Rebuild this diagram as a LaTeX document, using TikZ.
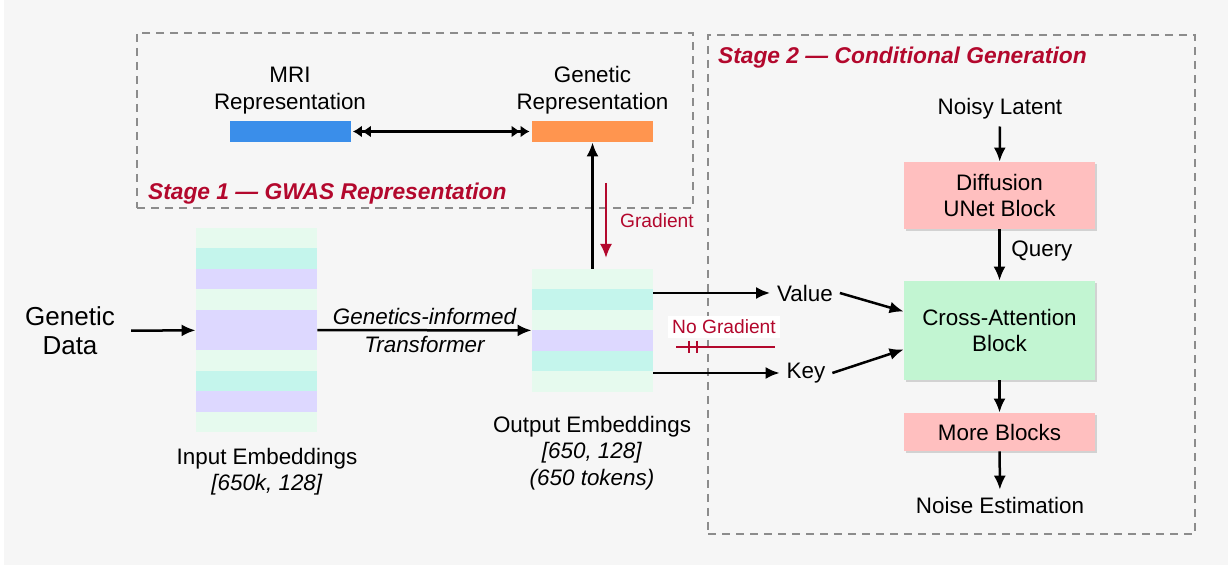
\documentclass[tikz,border=0pt]{standalone}
\usepackage{fontspec}
\setmainfont{Liberation Sans}
\usetikzlibrary{arrows.meta,shadows}

\definecolor{bgcol}{HTML}{F6F6F6}
\definecolor{dashgray}{HTML}{8C8C8C}
\definecolor{stagered}{HTML}{B3082D}
\definecolor{mriblue}{HTML}{3A8EEA}
\definecolor{genorange}{HTML}{FF954F}
\definecolor{mintc}{HTML}{E6FAEE}
\definecolor{cyanc}{HTML}{C4F5EC}
\definecolor{lavc}{HTML}{DDD8FF}
\definecolor{blkgreen}{HTML}{C2F5D2}
\definecolor{blkpink}{HTML}{FFBFBF}

\begin{document}
\begin{tikzpicture}[x=0.5pt, y=-0.5pt, font=\fontsize{11.2}{13.2}\selectfont]
	\tikzset{
		arr/.style={line width=1.25pt, -{Latex[length=7pt,width=6pt]}},
		dtip/.tip={Latex[length=4.5pt,width=6pt] Latex[length=4.5pt,width=6pt]},
		stagebox/.style={draw=dashgray, line width=0.75pt, dash pattern=on 4pt off 3pt, inner sep=0},
		bar/.style={minimum width=60.5pt, minimum height=10.5pt, inner sep=0},
		stack/.style={minimum width=60.5pt, inner sep=0},
		blk/.style={minimum width=95.5pt, inner sep=0, align=center, drop shadow={shadow xshift=1.2pt, shadow yshift=-1.2pt, opacity=0.3}},
		stagelbl/.style={anchor=west, text=stagered, font=\fontsize{11.4}{13}\selectfont\bfseries\itshape},
		redlbl/.style={text=stagered, font=\fontsize{9.6}{11}\selectfont},
	};

	% background and page
	\useasboundingbox (0,0) rectangle (1228,571);
	\fill[bgcol] (4,0) rectangle (1228,565);

	% stage frames
	\node[stagebox, minimum width=278pt, minimum height=87.5pt] (stage1) at (415,120.5) {};
	\node[stagebox, minimum width=243.5pt, minimum height=249.5pt] (stage2) at (951.5,284.5) {};
	\node[stagelbl] (s1lbl) at (141,194) {Stage 1 --- GWAS Representation};
	\node[stagelbl] (s2lbl) at (711,58) {Stage 2 --- Conditional Generation};

	% representations
	\node[bar, fill=mriblue] (mri) at (290,131.5) {};
	\node[bar, fill=genorange] (genrep) at (592.5,131.5) {};
	\node[align=center, anchor=south] (mrilbl) at (290,121) {MRI\\Representation};
	\node[align=center, anchor=south] (genlbl) at (592.5,121) {Genetic\\Representation};

	% embedding stacks
	\foreach \c [count=\i from 0] in {mintc,cyanc,lavc,mintc,lavc,lavc,mintc,cyanc,lavc,mintc}
		\fill[\c] (196,{228+\i*20.4}) rectangle (317,{248.6+\i*20.4});
	\foreach \c [count=\i from 0] in {mintc,cyanc,mintc,lavc,cyanc,mintc}
		\fill[\c] (532,{269+\i*20.5}) rectangle (653,{289.7+\i*20.5});
	\node[stack, minimum height=102pt] (inemb) at (256.5,330) {};
	\node[stack, minimum height=61.5pt] (outemb) at (592.5,330.5) {};

	\node[font=\fontsize{13}{14.5}\selectfont, align=center, inner sep=8pt] (gdata) at (70,331) {Genetic\\Data};
	\node[align=center] (inlbl) at (267,472) {Input Embeddings\\\textit{[650k, 128]}};
	\node[align=center] (outlbl) at (592,453) {Output Embeddings\\\textit{[650, 128]}\\\textit{(650 tokens)}};

	% stage 2 blocks
	\node (noisy) at (1000,109) {Noisy Latent};
	\node[blk, fill=blkpink, minimum height=33.5pt] (unet) at (999.5,195.5) {Diffusion\\UNet Block};
	\node[blk, fill=blkgreen, minimum height=49.5pt] (cross) at (999.5,330.5) {Cross-Attention\\Block};
	\node[blk, fill=blkpink, minimum height=19pt] (more) at (999.5,432) {More Blocks};
	\node (noise) at (1000,505) {Noise Estimation};
	\node (value) at (805,293) {Value};
	\node (key) at (806,373) {Key};

	% connectors
	\draw[arr] (gdata) -- (inemb);
	\draw[arr] (inemb) -- node[above=-1pt, font=\fontsize{11.2}{13}\selectfont\itshape] (tflbl1) {Genetics-informed}
		node[below=-1pt, font=\fontsize{11.2}{13}\selectfont\itshape] (tflbl2) {Transformer} (outemb);
	\draw[line width=1.25pt, dtip-dtip, shorten <=1pt, shorten >=1pt] (mri) -- (genrep);
	\draw[arr] (outemb) -- (genrep);
	\draw[arr] (outemb.east |- value.west) -- (value.west);
	\draw[arr] (outemb.east |- key.west) -- (key.west);
	\draw[arr] (value.east) -- ([yshift=9.5pt]cross.west);
	\draw[arr] (key.east) -- ([yshift=-9.5pt]cross.west);
	\draw[arr] (noisy) -- (unet);
	\draw[arr] (unet) -- node[right=2pt, yshift=2pt] (qlbl) {Query} (cross);
	\draw[arr] (cross) -- (more);
	\draw[arr] (more) -- (noise);

	% gradient flow
	\coordinate (gtop) at (606,183);
	\coordinate (gbot) at (606,258);
	\draw[stagered, line width=1.1pt, -{Latex[length=7pt,width=6pt]}] (gtop) -- (gbot);
	\node[redlbl, anchor=west] (gradlbl) at (613,221) {Gradient};

	\node[redlbl, fill=white, inner sep=2pt] (nglbl) at (724,327) {No Gradient};
	\coordinate (ngl) at (676,347);
	\coordinate (ngr) at (775,347);
	\draw[stagered, line width=1.2pt] (ngl) -- (ngr);
	\draw[stagered, line width=1.2pt] (689,341) -- (689,353) (697,341) -- (697,353);
\end{tikzpicture}
\end{document}
